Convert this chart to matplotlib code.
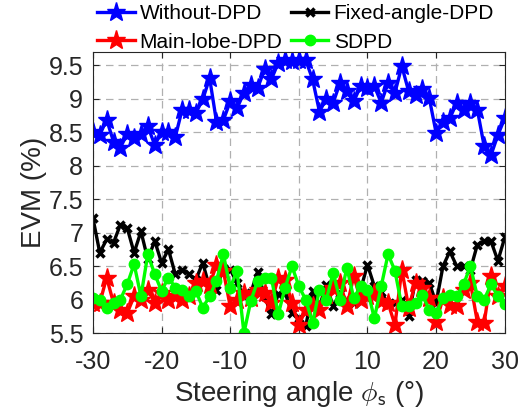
import numpy as np
import matplotlib
matplotlib.use("Agg")
import matplotlib.pyplot as plt

# ============================================================
# DATA (EVM vs steering angle)
# ============================================================

angles = np.arange(-30, 31)

evm_without = [
    8.51, 8.46, 8.69, 8.36, 8.27, 8.48, 8.42, 8.48, 8.59, 8.31,
    8.50, 8.50, 8.43, 8.84, 8.84, 8.79, 8.99, 9.31, 8.66, 8.68,
    8.96, 8.86, 9.09, 9.21, 9.16, 9.44, 9.29, 9.54, 9.58, 9.56,
    9.58, 9.58, 9.29, 8.81, 9.00, 8.94, 9.24, 9.11, 8.96, 9.19,
    9.16, 9.19, 8.94, 9.24, 9.09, 9.49, 9.11, 9.06, 9.14, 9.01,
    8.49, 8.66, 8.71, 8.94, 8.84, 8.94, 8.84, 8.29, 8.16, 8.46,
    8.71,
]

evm_fixed = [
    7.22, 6.70, 6.90, 6.85, 7.12, 7.07, 6.70, 7.02, 6.60, 6.88,
    6.55, 6.75, 6.38, 6.45, 6.38, 6.30, 6.55, 6.18, 6.15, 6.48,
    6.45, 6.25, 6.05, 6.10, 6.42, 6.05, 5.78, 6.08, 6.10, 5.80,
    5.72, 5.60, 6.13, 5.90, 6.22, 5.90, 6.10, 5.98, 5.95, 6.15,
    6.52, 6.20, 6.12, 5.93, 5.95, 6.00, 5.75, 6.30, 6.28, 6.25,
    5.95, 6.50, 6.72, 6.50, 6.50, 6.45, 6.82, 6.87, 6.87, 6.58,
    6.93,
]

evm_mainlobe = [
    5.95, 5.95, 6.33, 5.95, 5.85, 5.80, 6.05, 6.00, 6.15, 5.95,
    6.10, 6.00, 6.05, 6.00, 6.05, 6.25, 6.28, 6.22, 6.52, 6.43,
    5.90, 6.00, 6.10, 6.02, 6.15, 6.10, 5.95, 6.33, 6.30, 5.95,
    5.62, 5.85, 5.90, 5.85, 6.07, 6.17, 6.25, 5.90, 6.35, 6.00,
    6.05, 6.10, 5.98, 5.95, 5.62, 6.45, 5.88, 6.25, 6.18, 6.02,
    5.67, 6.02, 5.92, 5.90, 6.15, 6.25, 5.67, 5.65, 6.35, 6.05,
    6.20,
]

evm_sdpd = [
    6.02, 6.00, 5.88, 5.95, 6.00, 6.23, 6.53, 6.05, 6.68, 6.38,
    6.13, 6.33, 6.18, 6.15, 6.05, 6.13, 5.88, 6.05, 6.28, 6.68,
    6.18, 6.43, 5.50, 5.98, 6.28, 6.33, 6.33, 5.78, 6.18, 6.50,
    6.20, 6.00, 5.65, 6.15, 6.00, 6.40, 6.00, 6.48, 6.02, 6.20,
    6.15, 5.72, 6.20, 6.68, 6.43, 5.90, 5.90, 5.95, 6.07, 5.85,
    5.80, 6.02, 6.07, 6.05, 6.23, 6.50, 6.05, 6.00, 6.23, 6.05,
    5.93,
]

ytick_values = [5.5, 6, 6.5, 7, 7.5, 8, 8.5, 9, 9.5]
ytick_labels = ["5.5", "6", "6.5", "7", "7.5", "8", "8.5", "9", "9.5"]

# ============================================================
# FIGURE
# ============================================================

plt.rcParams["font.family"] = ["Liberation Sans", "DejaVu Sans"]
plt.rcParams["mathtext.fontset"] = "cm"
plt.rcParams["axes.unicode_minus"] = False

fig = plt.figure(figsize=(5.22, 4.19), dpi=100)

ax = fig.add_axes([0.178, 0.205, 0.789, 0.671])

h_without, = ax.plot(
    angles, evm_without,
    color="#0000ff", lw=2.4,
    marker="*", markersize=14
)

h_fixed, = ax.plot(
    angles, evm_fixed,
    color="black", lw=2.4,
    marker="x", markersize=6, markeredgewidth=2.5
)

h_main, = ax.plot(
    angles, evm_mainlobe,
    color="#ff0000", lw=2.4,
    marker="*", markersize=14
)

h_sdpd, = ax.plot(
    angles, evm_sdpd,
    color="#00ff00", lw=2.4,
    marker="o", markersize=7.5
)

# ------------------------------------------------------------
# Axes styling
# ------------------------------------------------------------

ax.set_xlim(-30, 30)
ax.set_ylim(5.5, 9.7)

ax.set_xticks(np.arange(-30, 31, 10))
ax.set_yticks(ytick_values)
ax.set_yticklabels(ytick_labels)

ax.grid(True, linestyle=(0, (6, 4)), color="#b0b0b0", linewidth=0.9)

ax.tick_params(
    direction="in", labelsize=18, colors="#262626",
    length=4, width=0.8, top=True, right=True
)
ax.tick_params(axis="x", pad=12)
ax.tick_params(axis="y", pad=7)

for spine in ax.spines.values():
    spine.set_color("#262626")
    spine.set_linewidth(0.8)

ax.set_xlabel(r"Steering angle $\phi_{\mathsf{s}}$ (°)",
              fontsize=20, color="#262626", labelpad=4)
ax.set_ylabel("EVM (%)", fontsize=20, color="#262626", labelpad=1)

# ------------------------------------------------------------
# Legend
# ------------------------------------------------------------

fig.legend(
    [h_without, h_main, h_fixed, h_sdpd],
    ["Without-DPD", "Main-lobe-DPD", "Fixed-angle-DPD", "SDPD"],
    ncol=2, frameon=False, fontsize=15,
    loc="upper left", bbox_to_anchor=(97 / 522, 0.99),
    borderpad=0, borderaxespad=0,
    handlelength=1.8, handletextpad=0.25,
    columnspacing=0.4, labelspacing=0.45
)

fig.savefig("out.png", dpi=100)
